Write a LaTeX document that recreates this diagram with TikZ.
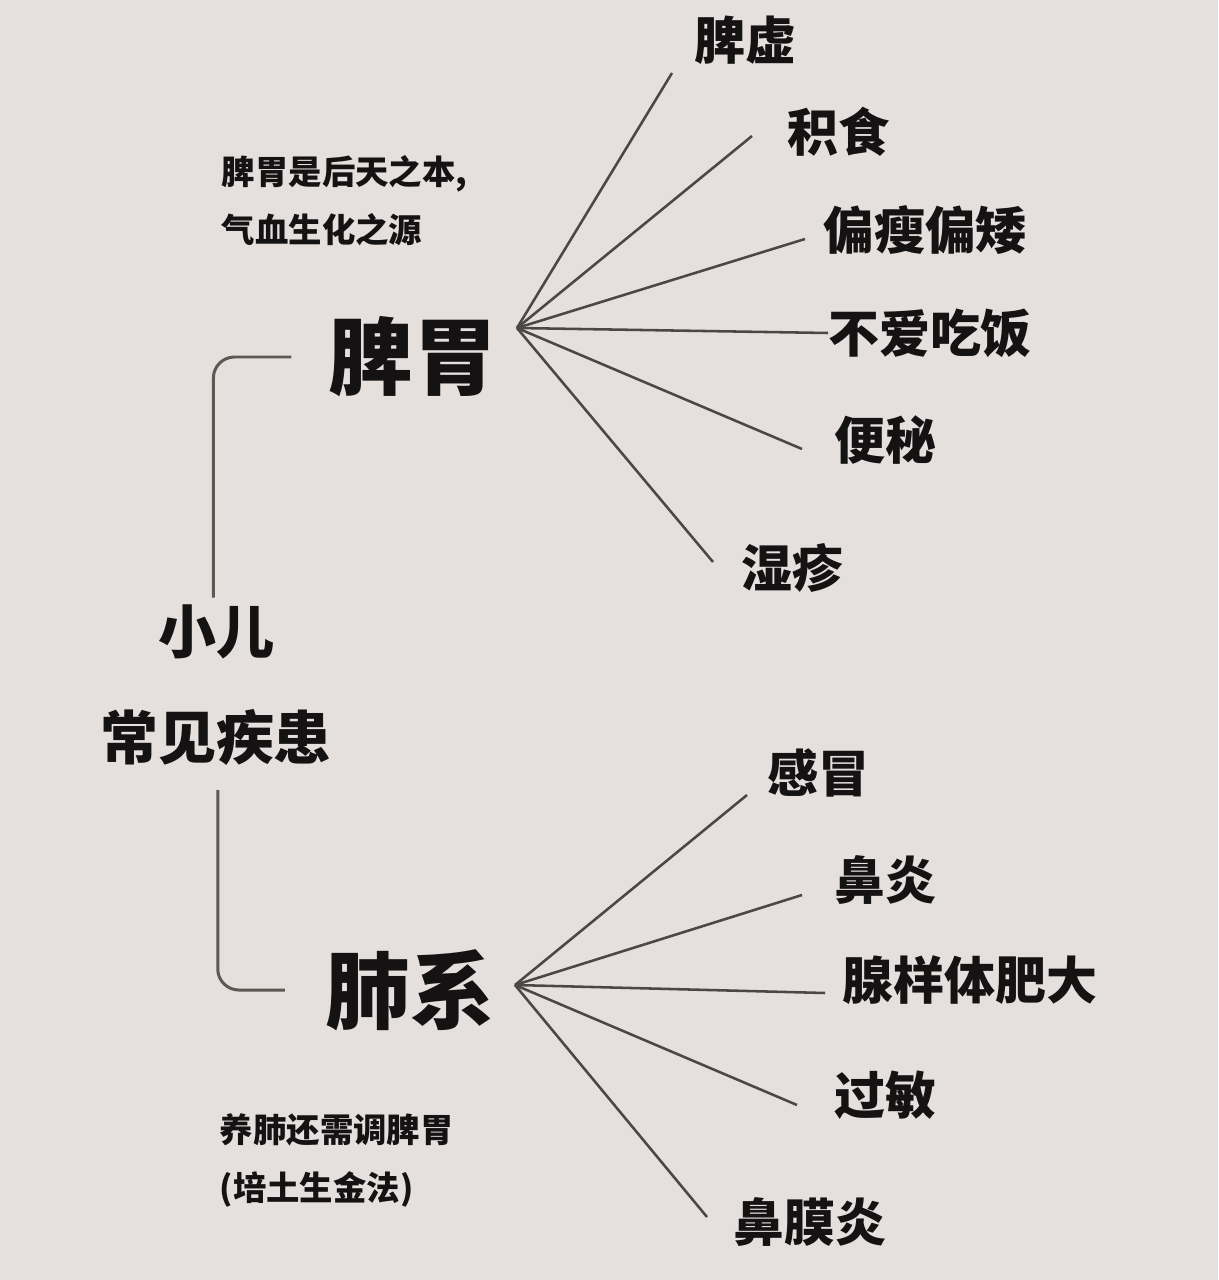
\documentclass[tikz,border=0pt]{standalone}
\usepackage{fontspec}
\newfontfamily\cjk{Noto Sans CJK SC}
\definecolor{paper}{HTML}{E5DFDE}
\definecolor{ink}{HTML}{141212}
\definecolor{spokegray}{HTML}{4A4746}
\definecolor{bracketgray}{HTML}{5E5752}

\begin{document}
\begin{tikzpicture}[x=0.02cm,y=-0.02cm,
    organ/.style ={font=\cjk\bfseries\fontsize{48}{48}\selectfont, text=ink, inner sep=2pt},
    topic/.style ={font=\cjk\bfseries\fontsize{33}{60}\selectfont, text=ink, inner sep=2pt, align=center},
    sign/.style ={font=\cjk\bfseries\fontsize{29}{29}\selectfont, text=ink, inner sep=2pt},
    remark/.style ={font=\cjk\bfseries\fontsize{19}{33}\selectfont, text=ink, inner sep=2pt, align=left, anchor=west},
    spoke/.style ={draw=spokegray, line width=1.45pt},
    bracket/.style ={draw=bracketgray, line width=1.7pt, rounded corners=12pt}]
   \fill[paper] (0,0) rectangle (1218,1280);

   \node[topic] (KID) at (216,685) {小儿\\常见疾患};
   \node[organ] (PW) at (413,357) {脾胃};
   \node[organ] (FX) at (410,990) {肺系};
   \node[remark] (PWnote) at (218,201) {脾胃是后天之本,\\气血生化之源};
   \node[remark] (FXnote) at (216,1160) {养肺还需调脾胃\\(培土生金法)};

   \node[sign] (PX) at (745,40) {脾虚};
   \node[sign] (JS) at (838,132) {积食};
   \node[sign] (PS) at (925,230) {偏瘦偏矮};
   \node[sign] (BA) at (930,333) {不爱吃饭};
   \node[sign] (BM) at (885,440) {便秘};
   \node[sign] (SZ) at (792,568) {湿疹};
   \node[sign] (GM) at (818,773) {感冒};
   \node[sign] (BY) at (885,880) {鼻炎};
   \node[sign] (XY) at (970,980) {腺样体肥大};
   \node[sign] (GB) at (885,1095) {过敏};
   \node[sign] (BMY) at (810,1222) {鼻膜炎};

   \coordinate (PWhub) at (517,328);
   \coordinate (FXhub) at (515,985);
   \coordinate (PXend) at (672,73);
   \coordinate (JSend) at (752,136);
   \coordinate (PSend) at (805,239);
   \coordinate (BAend) at (828,333);
   \coordinate (BMend) at (802,449);
   \coordinate (SZend) at (713,562);
   \coordinate (GMend) at (747,795);
   \coordinate (BYend) at (802,895);
   \coordinate (XYend) at (825,993);
   \coordinate (GBend) at (797,1105);
   \coordinate (BMYend) at (707,1217);

   \draw[bracket, shorten <=2pt, shorten >=19pt] ([xshift=-1.5pt]KID.north) |- (PW.west);
   \draw[bracket, shorten <=12pt, shorten >=21pt] ([xshift=1pt]KID.south) |- (FX.west);

   \draw[spoke] (PWhub) to (PXend);
   \draw[spoke] (PWhub) to (JSend);
   \draw[spoke] (PWhub) to (PSend);
   \draw[spoke] (PWhub) to (BAend);
   \draw[spoke] (PWhub) to (BMend);
   \draw[spoke] (PWhub) to (SZend);
   \draw[spoke] (FXhub) to (GMend);
   \draw[spoke] (FXhub) to (BYend);
   \draw[spoke] (FXhub) to (XYend);
   \draw[spoke] (FXhub) to (GBend);
   \draw[spoke] (FXhub) to (BMYend);
\end{tikzpicture}
\end{document}
